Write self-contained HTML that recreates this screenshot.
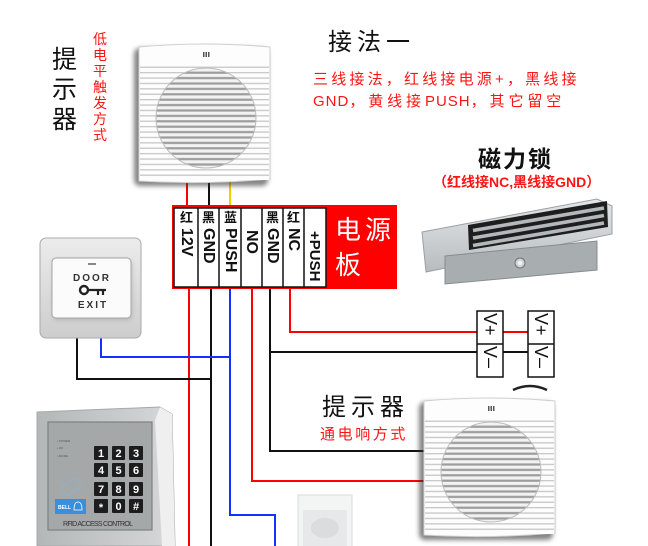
<!DOCTYPE html>
<html><head><meta charset="utf-8">
<style>
body{margin:0;width:648px;height:546px;overflow:hidden;background:#fff;position:relative;font-family:"Liberation Sans","Noto Sans CJK SC",sans-serif;}
.a{position:absolute;white-space:nowrap;line-height:1;}
.r{color:#ff1414;}
.cj{position:absolute;top:211px;width:21px;text-align:center;font-weight:bold;font-size:13px;line-height:1;color:#111;}
.vl{position:absolute;writing-mode:vertical-rl;font-weight:bold;font-size:16px;line-height:21px;width:21px;color:#111;white-space:nowrap;}
.vb{position:absolute;writing-mode:vertical-rl;font-size:18px;line-height:26px;width:26px;color:#111;white-space:nowrap;}
</style></head>
<body>
<svg width="648" height="546" style="position:absolute;left:0;top:0" xmlns="http://www.w3.org/2000/svg">
<defs>
<filter id="bl" x="-20%" y="-20%" width="140%" height="140%"><feGaussianBlur stdDeviation="2.5"/></filter>
<pattern id="sl" width="10" height="5.4" patternUnits="userSpaceOnUse"><rect width="10" height="5.4" fill="#fdfdfd"/><rect y="2" width="10" height="1.3" fill="#c6c6c6"/></pattern>
<pattern id="gr" width="10" height="5.4" patternUnits="userSpaceOnUse"><rect width="10" height="5.4" fill="#f2f2f2"/><rect y="1.6" width="10" height="2.2" fill="#9c9c9c"/></pattern>
<linearGradient id="dg" x1="0" y1="0" x2="0" y2="1"><stop offset="0" stop-color="#ececec"/><stop offset="1" stop-color="#cdcdcd"/></linearGradient>
<linearGradient id="kg" x1="0" y1="0" x2="1" y2="0"><stop offset="0" stop-color="#b4b7b8"/><stop offset="1" stop-color="#d6d8d9"/></linearGradient>
<linearGradient id="lg" x1="0" y1="0" x2="0" y2="1"><stop offset="0" stop-color="#e4e7e9"/><stop offset="1" stop-color="#b7bcbf"/></linearGradient>
<g id="spk">
 <rect x="-5" y="5" width="134" height="138" rx="6" fill="#333" opacity="0.6" filter="url(#bl)"/>
 <path d="M0 4 Q65 -2 131 4 V136 Q65 142 0 138 Z" fill="#fdfdfd" stroke="#cfcfcf" stroke-width="1"/>
 <rect x="1" y="21" width="129" height="116" fill="url(#sl)"/>
 <circle cx="67" cy="75" r="50" fill="url(#gr)" stroke="#bdbdbd" stroke-width="1"/>
 <g fill="#555"><rect x="64" y="9" width="1.5" height="5"/><rect x="66.5" y="9" width="1.5" height="5"/><rect x="69" y="9" width="1.5" height="5"/></g>
</g>
</defs>

<!-- wires -->
<g fill="none" stroke-width="2">
<path d="M187 180V206" stroke="#f00"/>
<path d="M209 180V206" stroke="#111"/>
<path d="M230 180V206" stroke="#f2cf00"/>
<path d="M189 289V546" stroke="#f00"/>
<path d="M211 289V546" stroke="#111"/>
<path d="M230 289V515H275V546" stroke="#1530ff"/>
<path d="M252 289V481H424" stroke="#f00"/>
<path d="M270 289V451H424" stroke="#111"/>
<path d="M270 352H477M503 352H528" stroke="#111"/>
<path d="M290 289V332H477M503 332H528" stroke="#f00"/>
<path d="M77 336V379H211" stroke="#111"/>
<path d="M101 336V357H230" stroke="#1530ff"/>
</g>

<!-- speakers -->
<use href="#spk" x="139" y="43"/>
<path d="M513 390 Q530 382 547 390" fill="none" stroke="#222" stroke-width="2.5"/>
<use href="#spk" x="424" y="397"/>

<!-- terminal block -->
<rect x="172" y="205" width="225" height="84" fill="#f00"/>
<rect x="174" y="208" width="152" height="79" fill="#fff" stroke="#111" stroke-width="1.5"/>
<g stroke="#111" stroke-width="1.5">
<path d="M198 208V287M219 208V287M241 208V287M262 208V287M283 208V287M304 208V287"/>
</g>

<!-- V boxes -->
<g fill="#fff" stroke="#111" stroke-width="1.5">
<rect x="477" y="311" width="26" height="66"/><path d="M477 344H503"/>
<rect x="528" y="311" width="26" height="66"/><path d="M528 344H554"/>
</g>

<!-- magnetic lock -->
<polygon points="422,232 597,199 612,206 612,234 426,272" fill="url(#lg)" stroke="#9aa0a3"/>
<polygon points="468,225 607,201 608,227 469,250" fill="#1e1e1e"/>
<g stroke="#b3b8bb" stroke-width="3.6">
<path d="M473 230.5L604 208M473 238L604 215.5M473 245.5L604 223"/>
</g>
<polygon points="445,256 597,241 597,270 445,284" fill="#a8adb0" stroke="#878c8f"/>
<circle cx="520" cy="263" r="5" fill="#cfd3d5" stroke="#6f7477"/>
<circle cx="520" cy="263" r="2.3" fill="#eef0f1"/>

<!-- door exit button -->
<rect x="40" y="238" width="101" height="100" rx="6" fill="url(#dg)" stroke="#aaa"/>
<rect x="53" y="260" width="79" height="60" rx="4" fill="#999" opacity=".5" filter="url(#bl)"/>
<rect x="52" y="258" width="79" height="60" rx="4" fill="#fbfbfb" stroke="#a5a5a5"/>
<rect x="88" y="263" width="8" height="2" fill="#888"/>
<text x="92" y="281" font-family="Liberation Sans" font-weight="bold" font-size="10" letter-spacing="2" text-anchor="middle" fill="#333">DOOR</text>
<circle cx="84" cy="290" r="4" fill="none" stroke="#222" stroke-width="2.4"/>
<path d="M88 290H106M98 290V295M103 290V295" stroke="#222" stroke-width="2.2" fill="none"/>
<text x="93" y="308" font-family="Liberation Sans" font-weight="bold" font-size="10" letter-spacing="2" text-anchor="middle" fill="#333">EXIT</text>

<!-- keypad -->
<polygon points="37,412 160,407 172,414 175,546 37,546" fill="url(#kg)" stroke="#a6a9aa"/>
<polygon points="160,407 172,414 175,546 162,546 155,420" fill="#efefef"/>
<rect x="48" y="422" width="104" height="108" fill="#a5a8a9" stroke="#7d8183" stroke-width="1.2"/>
<g font-family="Liberation Sans" font-size="3" fill="#555">
<text x="57" y="442">• POWER</text><text x="57" y="449">• OK</text><text x="57" y="457">• MODE</text>
</g>
<rect x="62" y="482" width="18" height="10" rx="2" fill="none" stroke="#8eb3cc" stroke-width="1" transform="rotate(-35 71 487)"/>
<g fill="#1d1d1d">
<rect x="94" y="446" width="14" height="14" rx="1"/><rect x="112" y="446" width="13" height="14" rx="1"/><rect x="129" y="446" width="14" height="14" rx="1"/>
<rect x="94" y="463" width="14" height="14" rx="1"/><rect x="112" y="463" width="13" height="14" rx="1"/><rect x="129" y="463" width="14" height="14" rx="1"/>
<rect x="94" y="482" width="14" height="14" rx="1"/><rect x="112" y="482" width="13" height="14" rx="1"/><rect x="129" y="482" width="14" height="14" rx="1"/>
<rect x="94" y="499" width="14" height="14" rx="1"/><rect x="112" y="499" width="13" height="14" rx="1"/><rect x="129" y="499" width="14" height="14" rx="1"/>
</g>
<g font-family="Liberation Sans" font-weight="bold" font-size="11" fill="#fff" text-anchor="middle">
<text x="101" y="457">1</text><text x="118.5" y="457">2</text><text x="136" y="457">3</text>
<text x="101" y="474">4</text><text x="118.5" y="474">5</text><text x="136" y="474">6</text>
<text x="101" y="493">7</text><text x="118.5" y="493">8</text><text x="136" y="493">9</text>
<text x="101" y="511">*</text><text x="118.5" y="510">0</text><text x="136" y="510">#</text>
</g>
<rect x="55" y="499" width="31" height="15" fill="#3a8fdd"/>
<text x="58" y="509" font-family="Liberation Sans" font-weight="bold" font-size="5" fill="#fff">BELL</text>
<path d="M74 510 Q74 502 78 502 Q82 502 82 510 Z" fill="none" stroke="#fff" stroke-width="0.8"/>
<text x="63" y="526" font-family="Liberation Sans" font-size="7" fill="#333" textLength="70">RFID ACCESS CONTROL</text>

<!-- small device -->
<rect x="298" y="495" width="54" height="55" fill="#f3f4f4" stroke="#d9dbdc"/>
<rect x="303" y="510" width="44" height="40" fill="#e6e8e9"/>
<ellipse cx="325" cy="528" rx="14" ry="10" fill="#dadcdd"/>
</svg>

<!-- texts -->
<div class="a" style="left:52px;top:45px;font-size:25px;line-height:30px;width:26px;white-space:normal;color:#111;">提<br>示<br>器</div>
<div class="a r" style="left:93px;top:31px;font-size:14px;line-height:16px;width:14px;white-space:normal;">低<br>电<br>平<br>触<br>发<br>方<br>式</div>

<div class="a" style="left:328px;top:31px;font-size:24px;letter-spacing:5px;color:#111;">接法一</div>
<div class="a r" style="left:313px;top:72px;font-size:15px;letter-spacing:3.2px;">三线接法，红线接电源+，黑线接</div>
<div class="a r" style="left:313px;top:94px;font-size:15px;letter-spacing:3.9px;"><span style="letter-spacing:1px">GND</span>，黄线接<span style="letter-spacing:1px">PUSH</span>，其它留空</div>

<div class="a" style="left:478px;top:148px;font-size:23px;font-weight:bold;letter-spacing:2px;color:#111;">磁力锁</div>
<div class="a r" style="left:433px;top:175px;font-size:14px;font-weight:bold;">（红线接NC,黑线接GND）</div>

<div class="a" style="left:322px;top:396px;font-size:24px;letter-spacing:5px;color:#111;">提示器</div>
<div class="a r" style="left:320px;top:427px;font-size:15px;letter-spacing:2.6px;">通电响方式</div>

<div class="a" style="left:335px;top:213px;font-size:26px;line-height:35px;letter-spacing:4px;color:#fff;">电源<br>板</div>

<!-- terminal labels -->
<div class="cj" style="left:176px;">红</div>
<div class="cj" style="left:198px;">黑</div>
<div class="cj" style="left:220px;">蓝</div>
<div class="cj" style="left:262px;">黑</div>
<div class="cj" style="left:283px;">红</div>
<div class="vl" style="left:176px;top:228px;">12V</div>
<div class="vl" style="left:198px;top:228px;">GND</div>
<div class="vl" style="left:220px;top:228px;">PUSH</div>
<div class="vl" style="left:241px;top:230px;">NO</div>
<div class="vl" style="left:262px;top:228px;">GND</div>
<div class="vl" style="left:283px;top:228px;">NC</div>
<div class="vl" style="left:304px;top:231px;font-size:15px;">+PUSH</div>

<!-- V labels -->
<div class="vb" style="left:477px;top:313px;">V+</div>
<div class="vb" style="left:477px;top:346px;">V–</div>
<div class="vb" style="left:528px;top:313px;">V+</div>
<div class="vb" style="left:528px;top:346px;">V–</div>
</body></html>
